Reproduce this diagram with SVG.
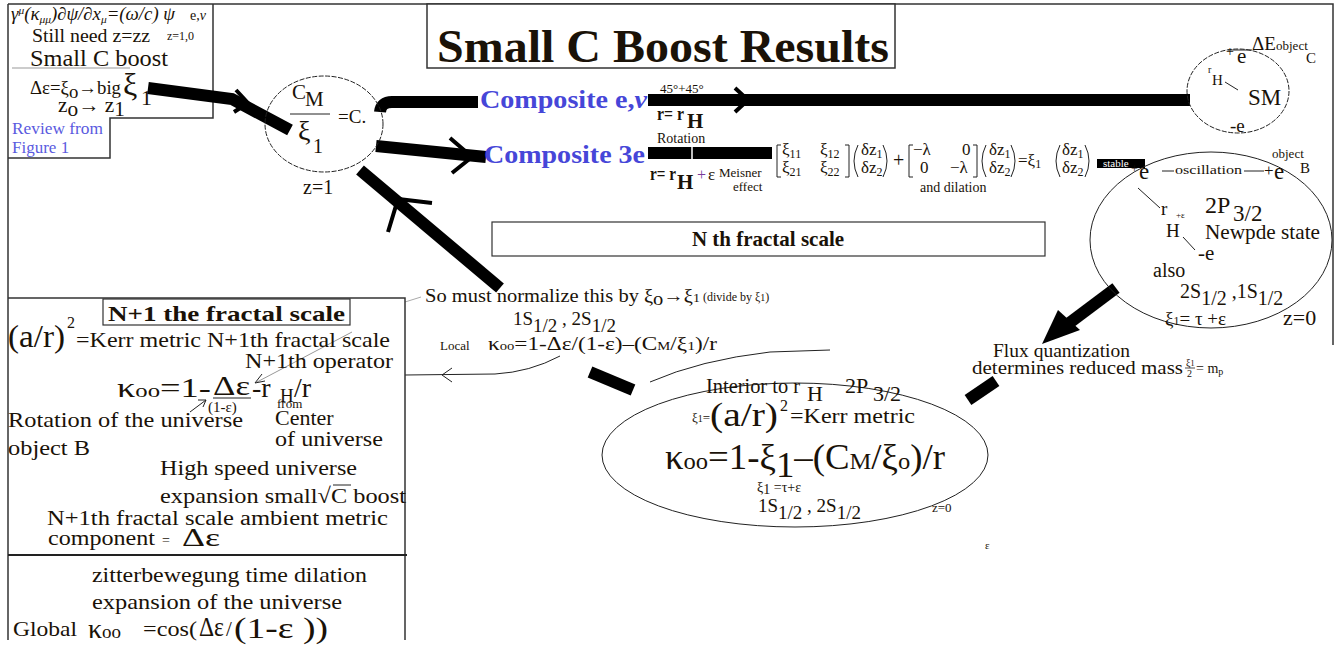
<svg xmlns="http://www.w3.org/2000/svg" width="1340" height="646" viewBox="0 0 1340 646">
<style>
text{font-family:"Liberation Serif","Times New Roman",serif;fill:#1a1208}
.b{font-weight:bold}
.blue{fill:#4646d8;font-weight:bold;font-size:26px}
.thick{stroke:#000;stroke-width:12;fill:none}
.chev{stroke:#000;stroke-width:4;fill:none}
.thin{stroke:#222;stroke-width:1;fill:none}
.frame{stroke:#333;stroke-width:1.5;fill:none}
.el{stroke:#222;stroke-width:1;fill:none}
.dash{stroke:#222;stroke-width:1;fill:none;stroke-dasharray:5 1.5}
</style>
<rect width="1340" height="646" fill="#fff"/>
<g id="frame">
<path class="frame" d="M8,4 H1333 V345"/>
<path class="frame" d="M8,4 V640"/>
<path class="frame" d="M213,4 V118 H110 V158 H8"/>
<line x1="12" y1="68" x2="130" y2="68" stroke="#999" stroke-width="1"/>
</g>
<g id="title">
<rect x="427" y="4" width="468" height="64" fill="#fff" stroke="#333" stroke-width="1.5"/>
<text x="437" y="62" class="b" font-size="46" fill="#000" textLength="452" lengthAdjust="spacingAndGlyphs">Small C Boost Results</text>
</g>
<g id="connectors">
<path class="thick" d="M148,88 L232,99 L290,130"/>
<polyline class="chev" points="236,90 248,103 234,112"/>
<path class="thick" d="M380,112 Q381,102 392,102 L478,102"/>
<path class="thick" d="M376,146 L486,157"/>
<polyline class="chev" points="450,138 472,157 452,173"/>
<path class="thick" d="M360,170 L500,288"/>
<polyline class="chev" points="432,203 398,199 388,232"/>
<path class="thick" d="M590,372 L633,390"/>
<path class="thick" d="M648,100 L1190,100"/>
<polyline class="chev" points="735,88 748,100 735,112"/>
<path class="thick" d="M648,153 L772,153" stroke-width="11"/>
<line x1="692" y1="146" x2="692" y2="160" stroke="#fff" stroke-width="1.5"/>
<path class="thick" d="M1116,288 L1068,324"/>
<polygon points="1042,344 1058,310 1080,330" fill="#000"/>
<path class="thick" d="M968,400 L996,381" stroke-width="10"/>
<path class="thin" d="M405,375 L495,374 Q530,372 560,356"/>
<polyline class="thin" points="452,368 442,375 452,382"/>
<path class="thin" d="M650,382 Q700,360 770,352 L830,350"/>
<line x1="405" y1="302" x2="421" y2="297" stroke="#aaa" stroke-width="1"/>
<line x1="352" y1="332" x2="257" y2="382" stroke="#999" stroke-width="1"/>
<polyline points="262,374 255,383 265,381" fill="none" stroke="#222" stroke-width="1"/>
<line x1="190" y1="412" x2="206" y2="400" stroke="#222" stroke-width="1"/>
<polyline points="198,400 206,400 203,407" fill="none" stroke="#222" stroke-width="1"/>
</g>
<g id="topleft">
<text x="11" y="20" font-size="18" font-style="italic" textLength="164" lengthAdjust="spacingAndGlyphs">γ<tspan dy="-6" font-size="11">μ</tspan><tspan dy="6">(κ</tspan><tspan dy="3" font-size="11">μμ</tspan><tspan dy="-3">)∂ψ/∂x</tspan><tspan dy="3" font-size="11">μ</tspan><tspan dy="-3">=(ω/c) ψ</tspan></text>
<text x="190" y="20" font-size="14">e,<tspan font-style="italic">ν</tspan></text>
<text x="32" y="42" font-size="19" textLength="118" lengthAdjust="spacingAndGlyphs">Still need z=zz</text>
<text x="167" y="40" font-size="12">z=1,0</text>
<text x="30" y="66" font-size="23" textLength="138" lengthAdjust="spacingAndGlyphs">Small C boost</text>
<text x="30" y="94" font-size="19" textLength="91" lengthAdjust="spacingAndGlyphs">Δε=ξ<tspan dy="4">o</tspan><tspan dy="-4">→big</tspan></text>
<text x="123" y="95" font-size="32">ξ</text>
<text x="141" y="105" font-size="22">1</text>
<text x="58" y="112" font-size="20" textLength="67" lengthAdjust="spacingAndGlyphs">z<tspan dy="4">o</tspan><tspan dy="-4">→ z</tspan><tspan dy="4">1</tspan></text>
<text x="12" y="134" font-size="17" style="fill:#5a5ae0" textLength="91" lengthAdjust="spacingAndGlyphs">Review from</text>
<text x="12" y="153" font-size="17" style="fill:#5a5ae0">Figure 1</text>
</g>
<g id="cm-node">
<ellipse class="dash" cx="324" cy="124" rx="59" ry="48"/>
<text x="292" y="99" font-size="21">C</text>
<text x="305" y="106" font-size="21">M</text>
<line x1="290" y1="114" x2="330" y2="114" stroke="#222" stroke-width="1"/>
<text x="298" y="140" font-size="28">ξ</text>
<text x="313" y="153" font-size="20">1</text>
<text x="338" y="123" font-size="19">=C.</text>
<text x="303" y="194" font-size="20">z=1</text>
</g>
<g id="composite-ev">
<text x="480" y="108" class="blue" textLength="167" lengthAdjust="spacingAndGlyphs">Composite e,<tspan font-style="italic">ν</tspan></text>
<text x="660" y="93" font-size="13">45°+45°</text>
<text x="657" y="120" font-size="18" class="b" textLength="27" lengthAdjust="spacingAndGlyphs">r= r</text>
<text x="687" y="128" font-size="21" class="b">H</text>
<text x="657" y="143" font-size="14">Rotation</text>
</g>
<g id="composite-3e">
<text x="484" y="163" class="blue" textLength="161" lengthAdjust="spacingAndGlyphs">Composite 3e</text>
<text x="650" y="180" font-size="18" class="b" textLength="26" lengthAdjust="spacingAndGlyphs">r= r</text>
<text x="677" y="189" font-size="21" class="b">H</text>
<text x="697" y="180" font-size="16" style="fill:#7a3a9a">+</text>
<text x="708" y="180" font-size="17">ε</text>
<text x="719" y="177" font-size="13">Meisner</text>
<text x="733" y="191" font-size="13">effect</text>
</g>
<g id="matrix">
<path class="thin" d="M781,145 H777 V177 H781" stroke-width="1.5"/>
<text x="782" y="155" font-size="17">ξ<tspan dy="3" font-size="12">11</tspan></text>
<text x="820" y="155" font-size="17">ξ<tspan dy="3" font-size="12">12</tspan></text>
<text x="782" y="173" font-size="17">ξ<tspan dy="3" font-size="12">21</tspan></text>
<text x="820" y="173" font-size="17">ξ<tspan dy="3" font-size="12">22</tspan></text>
<path class="thin" d="M845,145 H849 V177 H845" stroke-width="1.5"/>
<path class="thin" d="M858,145 Q850,161 858,177" stroke-width="1.5"/>
<text x="861" y="155" font-size="17">δz<tspan dy="3" font-size="12">1</tspan></text>
<text x="861" y="173" font-size="17">δz<tspan dy="3" font-size="12">2</tspan></text>
<path class="thin" d="M883,145 Q891,161 883,177" stroke-width="1.5"/>
<text x="893" y="167" font-size="20">+</text>
<path class="thin" d="M913,145 H909 V177 H913" stroke-width="1.5"/>
<text x="913" y="155" font-size="17">−λ</text>
<text x="962" y="155" font-size="17">0</text>
<text x="920" y="173" font-size="17">0</text>
<text x="950" y="173" font-size="17">−λ</text>
<path class="thin" d="M973,145 H977 V177 H973" stroke-width="1.5"/>
<path class="thin" d="M986,145 Q978,161 986,177" stroke-width="1.5"/>
<text x="989" y="155" font-size="17">δz<tspan dy="3" font-size="12">1</tspan></text>
<text x="989" y="173" font-size="17">δz<tspan dy="3" font-size="12">2</tspan></text>
<path class="thin" d="M1011,145 Q1019,161 1011,177" stroke-width="1.5"/>
<text x="1018" y="166" font-size="17">=ξ<tspan dy="2" font-size="12">1</tspan></text>
<path class="thin" d="M1060,145 Q1052,161 1060,177" stroke-width="1.5"/>
<text x="1062" y="155" font-size="17">δz<tspan dy="3" font-size="12">1</tspan></text>
<text x="1062" y="173" font-size="17">δz<tspan dy="3" font-size="12">2</tspan></text>
<path class="thin" d="M1085,145 Q1093,161 1085,177" stroke-width="1.5"/>
<text x="920" y="192" font-size="14">and dilation</text>
<rect x="1097" y="159" width="48" height="9" fill="#000"/>
<text x="1103" y="167" font-size="11" style="fill:#fff">stable</text>
</g>
<g id="sm-node">
<ellipse class="dash" cx="1238" cy="91" rx="51" ry="42"/>
<text x="1226" y="56" font-size="14">+</text>
<text x="1237" y="63" font-size="21">e</text>
<line x1="1228" y1="50" x2="1252" y2="50" stroke="#222" stroke-width="1"/>
<text x="1252" y="50" font-size="19">ΔE</text>
<text x="1276" y="50" font-size="13">object</text>
<text x="1306" y="63" font-size="15">C</text>
<text x="1208" y="73" font-size="10">r</text>
<text x="1212" y="85" font-size="15">H</text>
<line x1="1225" y1="82" x2="1238" y2="90" stroke="#222" stroke-width="1"/>
<text x="1248" y="105" font-size="23">SM</text>
<text x="1230" y="132" font-size="19">-e</text>
</g>
<g id="newpde-node">
<ellipse class="el" cx="1211" cy="240" rx="121" ry="88"/>
<text x="1131" y="173" font-size="12">+</text>
<text x="1139" y="179" font-size="23">e</text>
<line x1="1162" y1="171" x2="1174" y2="171" stroke="#222" stroke-width="1"/>
<text x="1175" y="174" font-size="12" textLength="67" lengthAdjust="spacingAndGlyphs">oscillation</text>
<line x1="1244" y1="171" x2="1264" y2="171" stroke="#222" stroke-width="1"/>
<text x="1264" y="176" font-size="17">+</text>
<text x="1274" y="179" font-size="23">e</text>
<text x="1272" y="158" font-size="13">object</text>
<text x="1300" y="173" font-size="15">B</text>
<line x1="1138" y1="188" x2="1160" y2="208" stroke="#222" stroke-width="1"/>
<text x="1161" y="215" font-size="19">r</text>
<text x="1176" y="218" font-size="9">+ε</text>
<text x="1166" y="237" font-size="19">H</text>
<line x1="1183" y1="237" x2="1195" y2="250" stroke="#222" stroke-width="1"/>
<text x="1198" y="260" font-size="21">-e</text>
<text x="1205" y="213" font-size="24">2P</text>
<text x="1233" y="221" font-size="23">3/2</text>
<text x="1205" y="239" font-size="21" textLength="115" lengthAdjust="spacingAndGlyphs">Newpde state</text>
<text x="1153" y="277" font-size="20">also</text>
<text x="1180" y="298" font-size="20">2S<tspan dy="7">1/2</tspan><tspan dy="-7"> ,1S</tspan><tspan dy="7">1/2</tspan></text>
<text x="1165" y="325" font-size="19">ξ<tspan font-size="12">1</tspan>= τ +ε</text>
<text x="1283" y="325" font-size="22">z=0</text>
</g>
<g id="nth-scale">
<rect x="492" y="222" width="553" height="34" fill="#fff" stroke="#333" stroke-width="1.2"/>
<text x="768" y="246" text-anchor="middle" font-size="21" class="b">N th fractal scale</text>
</g>
<g id="normalize">
<text x="425" y="302" font-size="19" textLength="275" lengthAdjust="spacingAndGlyphs">So must normalize this by ξ<tspan dy="3">o</tspan><tspan dy="-3">→ξ</tspan><tspan font-size="13">1</tspan></text>
<text x="703" y="301" font-size="12">(divide by ξ<tspan font-size="10">1</tspan>)</text>
<text x="513" y="325" font-size="19">1S<tspan dy="7">1/2</tspan><tspan dy="-7"> , 2S</tspan><tspan dy="7">1/2</tspan></text>
<text x="440" y="350" font-size="13">Local</text>
<text x="488" y="350" font-size="19" textLength="229" lengthAdjust="spacingAndGlyphs">κ<tspan font-size="12">oo</tspan>=1-Δε/(1-ε)–(C<tspan font-size="12">M</tspan>/ξ<tspan font-size="13">1</tspan>)/r</text>
</g>
<g id="interior-node">
<ellipse class="el" cx="795" cy="455" rx="193" ry="72"/>
<text x="706" y="393" font-size="22" textLength="94" lengthAdjust="spacingAndGlyphs">Interior to r</text>
<text x="807" y="401" font-size="22">H</text>
<text x="845" y="393" font-size="22">2P</text>
<text x="873" y="401" font-size="22">3/2</text>
<text x="692" y="422" font-size="13">ξ<tspan font-size="10">1</tspan>=</text>
<text x="710" y="426" font-size="34" textLength="68" lengthAdjust="spacingAndGlyphs">(a/r)</text>
<text x="780" y="411" font-size="16">2</text>
<text x="790" y="423" font-size="22" textLength="125" lengthAdjust="spacingAndGlyphs">=Kerr metric</text>
<text x="665" y="469" font-size="36" textLength="280" lengthAdjust="spacingAndGlyphs">κ<tspan font-size="24">oo</tspan>=1-ξ<tspan dy="8">1</tspan><tspan dy="-8">–(C</tspan><tspan font-size="24">M</tspan>/ξ<tspan font-size="24">o</tspan>)/r</text>
<text x="757" y="492" font-size="14">ξ<tspan dy="2">1</tspan><tspan dy="-2"> =τ+ε</tspan></text>
<text x="758" y="512" font-size="19">1S<tspan dy="7">1/2</tspan><tspan dy="-7"> , 2S</tspan><tspan dy="7">1/2</tspan></text>
<text x="932" y="512" font-size="13">z=0</text>
</g>
<g id="flux">
<text x="993" y="357" font-size="18" textLength="137" lengthAdjust="spacingAndGlyphs">Flux quantization</text>
<text x="972" y="374" font-size="18" textLength="211" lengthAdjust="spacingAndGlyphs">determines reduced mass</text>
<text x="1186" y="366" font-size="10">ξ<tspan font-size="8">1</tspan></text>
<line x1="1185" y1="368" x2="1195" y2="368" stroke="#222" stroke-width="0.8"/>
<text x="1187" y="377" font-size="10">2</text>
<text x="1196" y="373" font-size="14">= m<tspan font-size="10" dy="2">p</tspan></text>
<text x="985" y="549" font-size="11">ε</text>
</g>
<g id="n1-box">
<path class="frame" d="M8,298 H405 V640"/>
<line x1="8" y1="555" x2="407" y2="555" stroke="#222" stroke-width="2"/>
<rect x="103" y="299" width="247" height="26" fill="#fff" stroke="#333" stroke-width="1.2"/>
<text x="108" y="321" font-size="22" class="b" textLength="237" lengthAdjust="spacingAndGlyphs">N+1 the fractal scale</text>
<text x="8" y="347" font-size="32" textLength="57" lengthAdjust="spacingAndGlyphs">(a/r)</text>
<text x="67" y="328" font-size="16">2</text>
<text x="76" y="347" font-size="21" textLength="314" lengthAdjust="spacingAndGlyphs">=Kerr metric N+1th fractal scale</text>
<text x="245" y="368" font-size="21" textLength="148" lengthAdjust="spacingAndGlyphs">N+1th operator</text>
<text x="117" y="397" font-size="28" textLength="94" lengthAdjust="spacingAndGlyphs">κ<tspan font-size="19">oo</tspan>=1-</text>
<text x="213" y="395" font-size="27" textLength="37" lengthAdjust="spacingAndGlyphs">Δε</text>
<line x1="213" y1="398" x2="251" y2="398" stroke="#222" stroke-width="1"/>
<text x="252" y="397" font-size="28">-r</text>
<text x="280" y="402" font-size="19">H</text>
<text x="294" y="397" font-size="28">/r</text>
<text x="208" y="412" font-size="15">(1-ε)</text>
<text x="277" y="408" font-size="13">from</text>
<text x="8" y="427" font-size="22" textLength="235" lengthAdjust="spacingAndGlyphs">Rotation of the universe</text>
<text x="275" y="425" font-size="22">Center</text>
<text x="275" y="446" font-size="22" textLength="108" lengthAdjust="spacingAndGlyphs">of universe</text>
<text x="8" y="455" font-size="22" textLength="82" lengthAdjust="spacingAndGlyphs">object B</text>
<text x="160" y="475" font-size="22" textLength="197" lengthAdjust="spacingAndGlyphs">High speed universe</text>
<text x="160" y="503" font-size="22" textLength="246" lengthAdjust="spacingAndGlyphs">expansion small√C boost</text>
<line x1="333" y1="485" x2="351" y2="485" stroke="#222" stroke-width="1"/>
<text x="47" y="525" font-size="20" textLength="341" lengthAdjust="spacingAndGlyphs">N+1th fractal scale ambient  metric</text>
<text x="48" y="545" font-size="20" textLength="107" lengthAdjust="spacingAndGlyphs">component</text>
<text x="162" y="545" font-size="14">=</text>
<text x="182" y="546" font-size="26" textLength="38" lengthAdjust="spacingAndGlyphs">Δε</text>
<text x="92" y="582" font-size="21" textLength="275" lengthAdjust="spacingAndGlyphs">zitterbewegung time dilation</text>
<text x="92" y="609" font-size="21" textLength="250" lengthAdjust="spacingAndGlyphs">expansion of the universe</text>
<text x="13" y="636" font-size="21" textLength="64" lengthAdjust="spacingAndGlyphs">Global</text>
<text x="88" y="638" font-size="28">κ<tspan font-size="19">oo</tspan></text>
<text x="143" y="636" font-size="21" textLength="54" lengthAdjust="spacingAndGlyphs">=cos(</text>
<text x="199" y="636" font-size="28" textLength="25" lengthAdjust="spacingAndGlyphs">Δε</text>
<text x="226" y="636" font-size="21">/</text>
<text x="234" y="638" font-size="30" textLength="94" lengthAdjust="spacingAndGlyphs">(1-ε ))</text>
</g>
</svg>
